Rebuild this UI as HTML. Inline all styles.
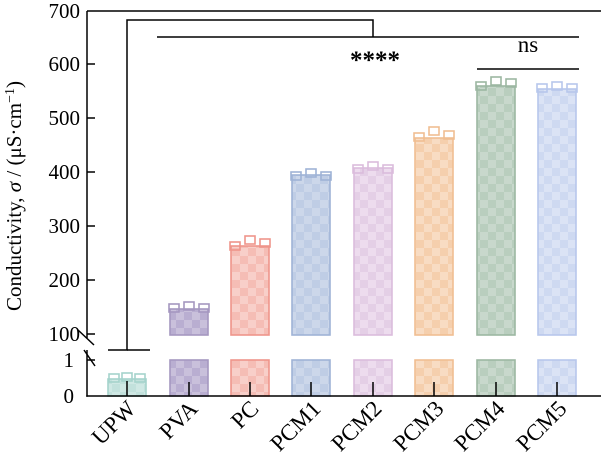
<!DOCTYPE html>
<html><head><meta charset="utf-8"><style>
html,body{margin:0;padding:0;background:#fff;}
svg{display:block;font-family:"Liberation Serif",serif;}
</style></head><body>
<svg width="602" height="463" viewBox="0 0 602 463" xmlns="http://www.w3.org/2000/svg">
<defs>
<pattern id="pU" width="16" height="16" patternUnits="userSpaceOnUse"><rect width="16" height="16" fill="#cfe8e4"/><rect width="8" height="8" fill="#c2e1dc"/><rect x="8" y="8" width="8" height="8" fill="#c2e1dc"/></pattern>
<pattern id="pV" width="16" height="16" patternUnits="userSpaceOnUse"><rect width="16" height="16" fill="#c9c0db"/><rect width="8" height="8" fill="#b9aed1"/><rect x="8" y="8" width="8" height="8" fill="#b9aed1"/></pattern>
<pattern id="pC" width="16" height="16" patternUnits="userSpaceOnUse"><rect width="16" height="16" fill="#f8cfc9"/><rect width="8" height="8" fill="#f5bdb5"/><rect x="8" y="8" width="8" height="8" fill="#f5bdb5"/></pattern>
<pattern id="p1" width="16" height="16" patternUnits="userSpaceOnUse"><rect width="16" height="16" fill="#ccd7ea"/><rect width="8" height="8" fill="#bfcde5"/><rect x="8" y="8" width="8" height="8" fill="#bfcde5"/></pattern>
<pattern id="p2" width="16" height="16" patternUnits="userSpaceOnUse"><rect width="16" height="16" fill="#eddcee"/><rect width="8" height="8" fill="#e4cfe6"/><rect x="8" y="8" width="8" height="8" fill="#e4cfe6"/></pattern>
<pattern id="p3" width="16" height="16" patternUnits="userSpaceOnUse"><rect width="16" height="16" fill="#f8dcc3"/><rect width="8" height="8" fill="#f5cfad"/><rect x="8" y="8" width="8" height="8" fill="#f5cfad"/></pattern>
<pattern id="p4" width="16" height="16" patternUnits="userSpaceOnUse"><rect width="16" height="16" fill="#c8d8cc"/><rect width="8" height="8" fill="#b9cebe"/><rect x="8" y="8" width="8" height="8" fill="#b9cebe"/></pattern>
<pattern id="p5" width="16" height="16" patternUnits="userSpaceOnUse"><rect width="16" height="16" fill="#dbe3f5"/><rect width="8" height="8" fill="#ced9f1"/><rect x="8" y="8" width="8" height="8" fill="#ced9f1"/></pattern>
</defs>

<g stroke="#a5d3cc" stroke-width="1.6">
<rect x="108" y="379" width="38" height="17" fill="url(#pU)"/>
<rect x="109" y="374" width="10" height="8" fill="none"/><rect x="122" y="373" width="10" height="8" fill="none"/><rect x="135" y="374" width="10" height="8" fill="none"/>
</g>

<g stroke-width="1.6">
<g stroke="#a597c0"><rect x="170" y="309" width="38" height="26" fill="url(#pV)"/><rect x="170" y="360" width="38" height="36" fill="url(#pV)"/>
<rect x="169" y="304" width="10" height="8" fill="none"/><rect x="184" y="302" width="10" height="8" fill="none"/><rect x="199" y="304" width="10" height="8" fill="none"/></g>
<g stroke="#ef958b"><rect x="231" y="246" width="38" height="89" fill="url(#pC)"/><rect x="231" y="360" width="38" height="36" fill="url(#pC)"/>
<rect x="230" y="242" width="10" height="8" fill="none"/><rect x="245" y="236" width="10" height="8" fill="none"/><rect x="260" y="239" width="10" height="8" fill="none"/></g>
<g stroke="#9fb3d6"><rect x="292" y="175" width="38" height="160" fill="url(#p1)"/><rect x="292" y="360" width="38" height="36" fill="url(#p1)"/>
<rect x="291" y="172" width="10" height="8" fill="none"/><rect x="306" y="169" width="10" height="8" fill="none"/><rect x="321" y="172" width="10" height="8" fill="none"/></g>
<g stroke="#dbbcdc"><rect x="354" y="168" width="38" height="167" fill="url(#p2)"/><rect x="354" y="360" width="38" height="36" fill="url(#p2)"/>
<rect x="353" y="165" width="10" height="8" fill="none"/><rect x="368" y="162" width="10" height="8" fill="none"/><rect x="383" y="165" width="10" height="8" fill="none"/></g>
<g stroke="#f0be92"><rect x="415" y="138" width="38" height="197" fill="url(#p3)"/><rect x="415" y="360" width="38" height="36" fill="url(#p3)"/>
<rect x="414" y="133" width="10" height="8" fill="none"/><rect x="429" y="127" width="10" height="8" fill="none"/><rect x="444" y="131" width="10" height="8" fill="none"/></g>
<g stroke="#9cb7a2"><rect x="477" y="86" width="38" height="249" fill="url(#p4)"/><rect x="477" y="360" width="38" height="36" fill="url(#p4)"/>
<rect x="476" y="82" width="10" height="8" fill="none"/><rect x="491" y="77" width="10" height="8" fill="none"/><rect x="506" y="79" width="10" height="8" fill="none"/></g>
<g stroke="#b7c7ec"><rect x="538" y="89" width="38" height="246" fill="url(#p5)"/><rect x="538" y="360" width="38" height="36" fill="url(#p5)"/>
<rect x="537" y="84" width="10" height="8" fill="none"/><rect x="552" y="82" width="10" height="8" fill="none"/><rect x="567" y="84" width="10" height="8" fill="none"/></g>
</g>

<g stroke="#000" stroke-width="1.5">
<line x1="127" y1="381" x2="127" y2="396"/><line x1="189" y1="382" x2="189" y2="396"/><line x1="250" y1="382" x2="250" y2="396"/>
<line x1="311" y1="382" x2="311" y2="396"/><line x1="373" y1="382" x2="373" y2="396"/><line x1="434" y1="382" x2="434" y2="396"/>
<line x1="496" y1="382" x2="496" y2="396"/><line x1="557" y1="382" x2="557" y2="396"/>
</g>

<g stroke="#000" stroke-width="1.5" fill="none">
<line x1="87" y1="11" x2="601" y2="11"/>
<line x1="87" y1="11" x2="87" y2="338"/>
<line x1="87" y1="350" x2="87" y2="396.75"/>
<line x1="86.25" y1="396" x2="601" y2="396"/>
<line x1="78" y1="330" x2="94" y2="345"/>
<line x1="84" y1="350" x2="95" y2="366"/>
<g>
<line x1="87" y1="64" x2="95" y2="64"/><line x1="87" y1="118" x2="95" y2="118"/><line x1="87" y1="172" x2="95" y2="172"/>
<line x1="87" y1="226" x2="95" y2="226"/><line x1="87" y1="280" x2="95" y2="280"/><line x1="87" y1="334" x2="95" y2="334"/>
<line x1="87" y1="360" x2="95" y2="360"/>
</g>
<polyline points="108,350 127,350 127,20 373,20 373,37"/>
<line x1="127" y1="350" x2="150" y2="350"/>
<line x1="157" y1="37" x2="579" y2="37"/>
<line x1="477" y1="69" x2="579" y2="69"/>
</g>

<g font-size="21" text-anchor="end" fill="#000">
<text x="80" y="18">700</text><text x="80" y="71">600</text><text x="80" y="125">500</text>
<text x="80" y="179">400</text><text x="80" y="233">300</text><text x="80" y="287">200</text>
<text x="80" y="341">100</text><text x="74" y="367">1</text><text x="74" y="403">0</text>
</g>

<text x="375" y="68" font-size="25" font-weight="bold" text-anchor="middle">****</text>
<text x="528" y="52" font-size="23" text-anchor="middle">ns</text>

<text transform="translate(21,196) rotate(-90)" font-size="21" text-anchor="middle">Conductivity, <tspan font-style="italic">σ</tspan> / (μS·cm<tspan dy="-7" font-size="14">−1</tspan><tspan dy="7">)</tspan></text>

<g font-size="23" text-anchor="end">
<text transform="translate(137,410) rotate(-45)">UPW</text>
<text transform="translate(199,410) rotate(-45)">PVA</text>
<text transform="translate(260,410) rotate(-45)">PC</text>
<text transform="translate(322,410) rotate(-45)">PCM1</text>
<text transform="translate(383,410) rotate(-45)">PCM2</text>
<text transform="translate(445,410) rotate(-45)">PCM3</text>
<text transform="translate(506,410) rotate(-45)">PCM4</text>
<text transform="translate(568,410) rotate(-45)">PCM5</text>
</g>
</svg>
</body></html>
